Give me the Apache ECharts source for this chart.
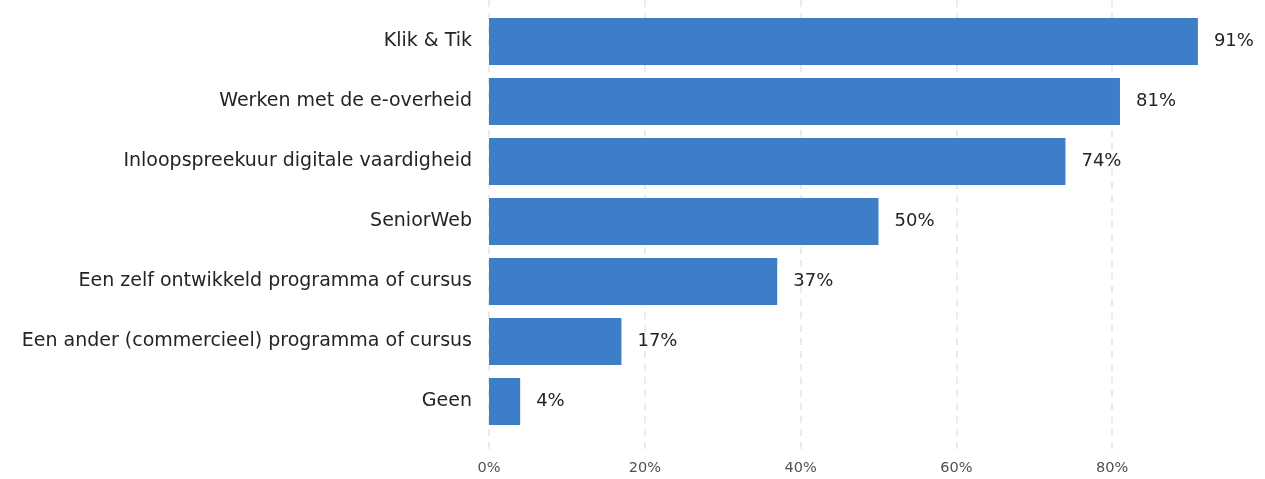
<!DOCTYPE html>
<html>
<head>
<meta charset="utf-8">
<script src="https://cdn.jsdelivr.net/npm/echarts@6/dist/echarts.min.js"></script>
<style>
  html, body { margin: 0; padding: 0; background: #fff; }
  #chart { width: 1265px; height: 479px; }
</style>
</head>
<body>
<div id="chart"></div>
<script>
// Categories top to bottom
const categories = [
  'Klik & Tik',
  'Werken met de e-overheid',
  'Inloopspreekuur digitale vaardigheid',
  'SeniorWeb',
  'Een zelf ontwikkeld programma of cursus',
  'Een ander (commercieel) programma of cursus',
  'Geen'
];
const values = [91, 81, 74, 50, 37, 17, 4];
const axisMin = 0;
const axisMax = 100;
const tickStep = 20;

const textFont = 'DejaVu Sans';
const chart = echarts.init(document.getElementById('chart'));

chart.setOption({
  animation: false,
  grid: [
    // bars
    { left: 489, right: -3, top: 11.5, height: 420, outerBoundsMode: 'none' },
    // gridlines + tick labels
    { left: 489, right: -3, top: 0, height: 451, outerBoundsMode: 'none' }
  ],
  xAxis: [
    {
      gridIndex: 0, type: 'value', min: axisMin, max: axisMax,
      show: false
    },
    {
      gridIndex: 1, type: 'value', min: axisMin, max: axisMax, interval: tickStep,
      axisLine: { show: false },
      axisTick: { show: false },
      splitLine: { lineStyle: { color: '#E4E4E4', type: [7, 6], width: 1.5 } },
      axisLabel: {
        color: '#505050', fontFamily: textFont, fontSize: 14.5, margin: 10,
        showMaxLabel: false,
        formatter: v => v + '%'
      }
    }
  ],
  yAxis: [
    {
      gridIndex: 0, type: 'category', data: categories, inverse: true,
      axisLine: { show: false },
      axisTick: { show: false },
      splitLine: { show: false },
      axisLabel: { color: '#252423', fontFamily: textFont, fontSize: 19, margin: 17 }
    },
    {
      gridIndex: 1, type: 'value', show: false
    }
  ],
  series: [
    {
      type: 'bar',
      xAxisIndex: 0, yAxisIndex: 0,
      data: values,
      barCategoryGap: '22%',
      itemStyle: { color: '#3E7DC8' },
      label: {
        show: true, position: 'right', distance: 16,
        formatter: p => p.value + '%',
        color: '#252423', fontFamily: textFont, fontSize: 18
      }
    }
  ]
});
</script>
</body>
</html>
